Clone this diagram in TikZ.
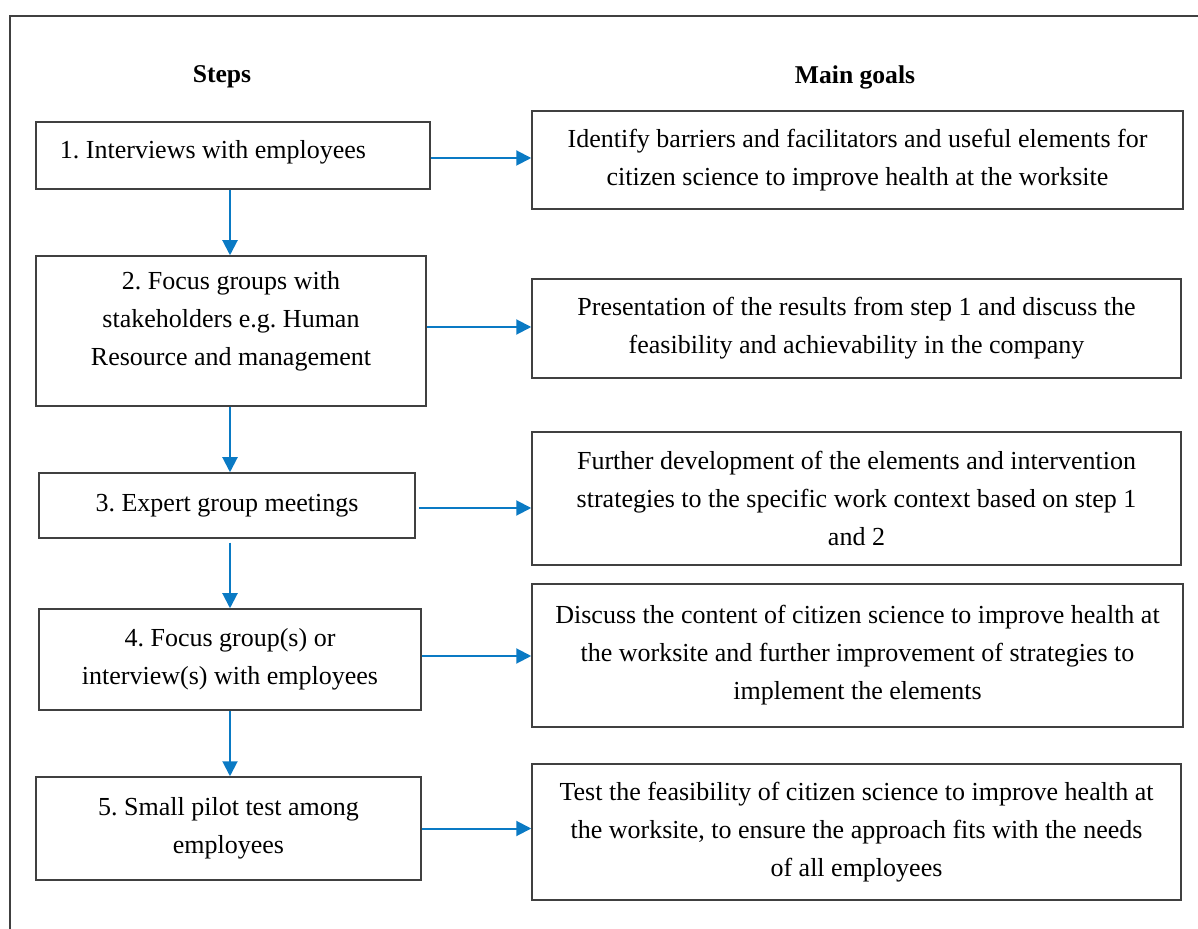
\documentclass[tikz,border=0pt]{standalone}
\usepackage{fontspec}
\setmainfont{Liberation Serif}
\usetikzlibrary{arrows.meta}
\definecolor{arrblue}{RGB}{10,122,196}
\definecolor{boxgray}{RGB}{64,64,64}
\tikzset{
  box/.style={draw=boxgray, line width=0.75pt, fill=white, align=center, inner sep=0pt,
    font=\fontsize{13}{19}\selectfont\frenchspacing},
  head/.style={font=\fontsize{12.8}{14}\selectfont\bfseries},
  arr/.style={draw=arrblue, line width=1pt, -{Triangle[length=7.5pt,width=7.5pt]}},
  frame/.style={draw=boxgray, line width=0.6pt}
}
\begin{document}
\begin{tikzpicture}[x=0.5pt,y=-0.5pt]
\useasboundingbox (0,0) rectangle (1198,929);
\coordinate (fbl) at (10,929);
\coordinate (ftl) at (10,16);
\coordinate (ftr) at (1198,16);
\draw[frame] (fbl) -- (ftl) -- (ftr);
\node[head] (hsteps) at (222,77) {Steps};
\node[head] (hgoals) at (855,77) {Main goals};

\node[box, minimum width=197pt, minimum height=33.5pt] (s1) at (233,155.5) {1. Interviews with employees\rule{20pt}{0pt}\\[-13pt]\mbox{}};
\node[box, minimum width=195pt, minimum height=75pt] (s2) at (231,331) {2. Focus groups with\\stakeholders e.g. Human\\Resource and management\\[-6pt]\mbox{}};
\node[box, minimum width=188pt, minimum height=32.5pt] (s3) at (227,505.5) {3. Expert group meetings};
\node[box, minimum width=191pt, minimum height=50.5pt] (s4) at (230,659.5) {4. Focus group(s) or\\interview(s) with employees};
\node[box, minimum width=192.5pt, minimum height=51.5pt] (s5) at (228.5,828.5) {5. Small pilot test among\\employees};

\node[box, minimum width=325.5pt, minimum height=49pt] (g1) at (857.5,160) {Identify barriers and facilitators and useful elements for\\citizen science to improve health at the worksite};
\node[box, minimum width=324.5pt, minimum height=49.5pt] (g2) at (856.5,328.5) {Presentation of the results from step 1 and discuss the\\feasibility and achievability in the company};
\node[box, minimum width=324.5pt, minimum height=66.5pt] (g3) at (856.5,498.5) {Further development of the elements and intervention\\strategies to the specific work context based on step 1\\and 2};
\node[box, minimum width=325.5pt, minimum height=71.5pt] (g4) at (857.5,655.5) {Discuss the content of citizen science to improve health at\\the worksite and further improvement of strategies to\\implement the elements};
\node[box, minimum width=324.5pt, minimum height=68pt] (g5) at (856.5,832) {Test the feasibility of citizen science to improve health at\\the worksite, to ensure the approach fits with the needs\\of all employees};

\coordinate (cx) at (230,0);
\draw[arr] ([yshift=-1.25pt]s1.east) -- ([yshift=-1.25pt]s1.east -| g1.west);
\draw[arr] ([yshift=2pt]s2.east) -- ([yshift=2pt]s2.east -| g2.west);
\draw[arr] ([yshift=-1.25pt,xshift=1.5pt]s3.east) -- ([yshift=-1.25pt]s3.east -| g3.west);
\draw[arr] ([yshift=1.75pt]s4.east) -- ([yshift=1.75pt]s4.east -| g4.west);
\draw[arr] (s5.east) -- (s5.east -| g5.west);
\draw[arr] (cx |- s1.south) -- (cx |- s2.north);
\draw[arr] (cx |- s2.south) -- (cx |- s3.north);
\draw[arr] ([yshift=-2pt]cx |- s3.south) -- (cx |- s4.north);
\draw[arr] (cx |- s4.south) -- (cx |- s5.north);
\end{tikzpicture}
\end{document}
